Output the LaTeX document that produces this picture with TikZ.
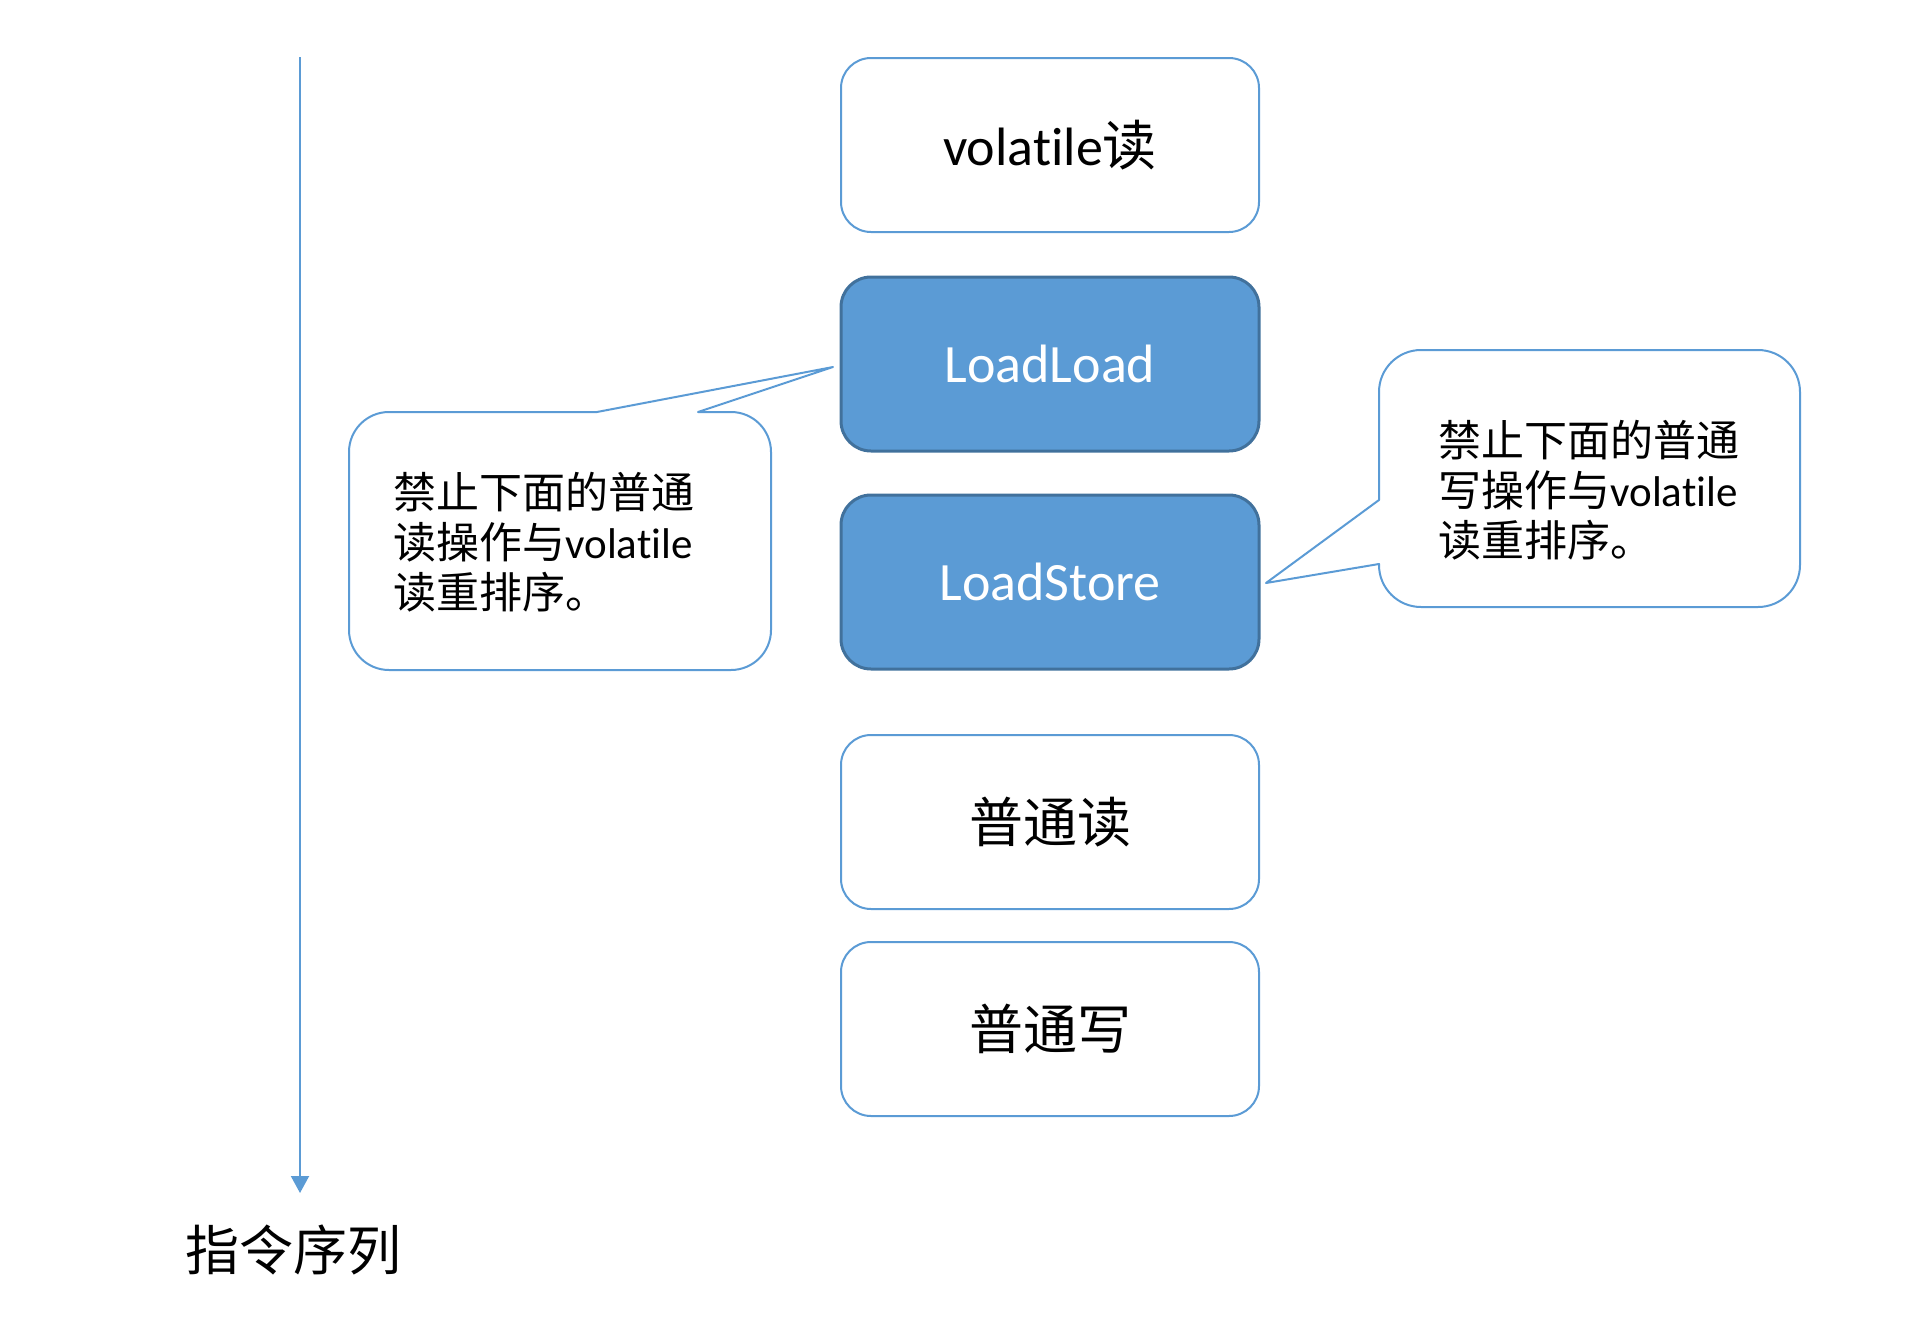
\documentclass[tikz,border=0pt]{standalone}
\usepackage{fontspec}
\setmainfont{Carlito}[Ligatures={NoCommon,NoContextual}]
\newfontfamily\cjk{Noto Sans CJK SC}
\usetikzlibrary{arrows.meta}
\definecolor{ofblue}{HTML}{5B9BD5}
\definecolor{ofdark}{HTML}{41719C}

\begin{document}
\begin{tikzpicture}[x=0.5pt, y=-0.5pt,
		box/.style={draw=ofblue, line width=1pt, rounded corners=15pt, fill=white,
			minimum width=209pt, minimum height=87pt, font=\fontsize{27}{30}\selectfont},
		barrier/.style={box, draw=ofdark, line width=1.5pt, fill=ofblue, text=white},
		bubble/.style={draw=ofblue, line width=1pt, line join=round},
		note/.style={anchor=west, inner sep=0pt, align=left, font=\fontsize{21.5}{25}\selectfont}]
			\useasboundingbox (0,0) rectangle (1928,1333);
			\node[box] (a) at (1050, 145) {volatile{\cjk 读}};
			\node[barrier] (b) at (1050, 364) {LoadLoad};
			\node[barrier] (c) at (1050, 582) {LoadStore};
			\node[box] (d) at (1050, 822) {\cjk 普通读};
			\node[box] (e) at (1050, 1029) {\cjk 普通写};
			\coordinate (top) at (300, 57);
			\coordinate (bot) at (300, 1193);
			\draw[ofblue, line width=1pt, -{Triangle[width=9pt, length=8.5pt]}] (top) -- (bot);
			\node (seq) at (293, 1250) {\fontsize{27}{30}\selectfont\cjk 指令序列};
			% callouts
			\coordinate (tipl) at (833, 367);
			\coordinate (tipr) at (1266, 583);
			\draw[bubble] (698, 412) [rounded corners=20pt] -- (771, 412) -- (771, 670) -- (349, 670)
				-- (349, 412) [sharp corners] -- (597, 412) -- (tipl) -- cycle;
			\draw[bubble] (1379, 564) [rounded corners=21pt] -- (1379, 607) -- (1800, 607) -- (1800, 350)
				-- (1379, 350) [sharp corners] -- (1379, 500) -- (tipr) -- cycle;
			\node[note] (nl) at (393, 542) {{\cjk 禁止下面的普通}\\{\cjk 读操作与}volatile\\{\cjk 读重排序。}};
			\node[note] (nr) at (1438, 490) {{\cjk 禁止下面的普通}\\{\cjk 写操作与}volatile\\{\cjk 读重排序。}};
		\end{tikzpicture}
\end{document}
